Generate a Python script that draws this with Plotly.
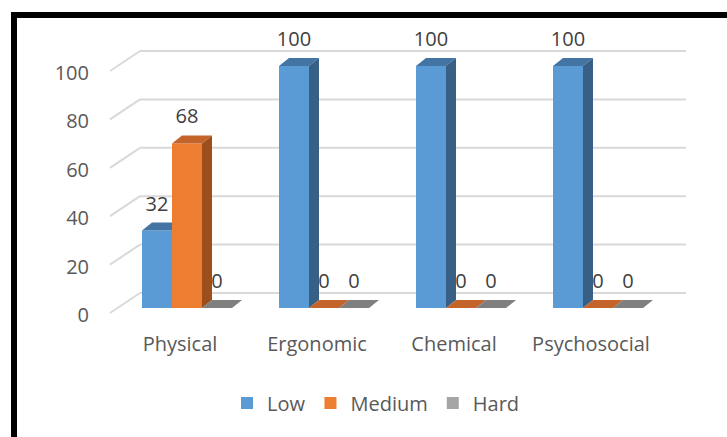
import plotly.graph_objects as go

# ---- data -------------------------------------------------------------
categories = ["Physical", "Ergonomic", "Chemical", "Psychosocial"]
low = [32, 100, 100, 100]
medium = [68, 0, 0, 0]
hard = [0, 0, 0, 0]
series_names = ["Low", "Medium", "Hard"]
y_ticks = [0, 20, 40, 60, 80, 100]

# ---- styling ------------------------------------------------------------
front_colors = ["#5b9bd5", "#ed7d31", "#a5a5a5"]
top_colors = ["#4374a3", "#c4642a", "#7f7f7f"]
side_colors = ["#385f86", "#9c4e1d", "#6b6b6b"]
grid_color = "#d9d9d9"
axis_text = "#595959"
label_text = "#404040"
FONT = "Open Sans"

# ---- pixel geometry of the drawing area ---------------------------------
W, H = 727, 437
L, R, T, B = 100, 700, 20, 330      # plot area (px)
X0_PX, KX = 187, 137.0              # px of first category centre, px per category
Y0_PX, KY = 308, 2.42               # px of value 0 on the front plane, px per unit

BAR_W = 30 / KX                     # bar width in category units
DX, DY = 10 / KX, 8 / KY            # bar depth (3-D offset)
WALL_FX, WALL_FDY = (110 - X0_PX) / KX, -5 / KY   # front edge of side wall
WALL_BX, WALL_BDY = (140 - X0_PX) / KX, 15 / KY   # back wall start
WALL_RX = (686 - X0_PX) / KX                      # back wall right end
LABEL_GAP = 25 / KY                 # data label centre above the bar front top
XLAB_DX = -7 / KX                   # category label shift
YLAB_DY = 7 / KY                    # value label shift (below front plane)

x_range = [(L - X0_PX) / KX, (R - X0_PX) / KX]
y_range = [(Y0_PX - B) / KY, (Y0_PX - T) / KY]

series = [low, medium, hard]

fig = go.Figure()

# front faces
for k, (name, vals) in enumerate(zip(series_names, series)):
    fig.add_trace(go.Bar(
        name=name, x=list(range(len(categories))), y=vals,
        marker=dict(color=front_colors[k], line=dict(width=0)),
        hoverinfo="skip",
    ))


def poly(xs, ys, color):
    fig.add_trace(go.Scatter(
        x=xs + [xs[0]], y=ys + [ys[0]], mode="lines", fill="toself",
        fillcolor=color, line=dict(width=0, color=color),
        hoverinfo="skip", showlegend=False,
    ))


# top and side faces, drawn left to right so nearer faces overlap correctly
for i in range(len(categories)):
    for k, vals in enumerate(series):
        v = vals[i]
        x0 = i + (k - 1.5) * BAR_W
        x1 = x0 + BAR_W
        nxt = series[k + 1][i] if k + 1 < len(series) else None
        hidden_right = nxt is not None and nxt >= v + DY
        if hidden_right:
            poly([x0, x1, x1, x0 + DX], [v, v, v + DY, v + DY], top_colors[k])
        else:
            poly([x0, x1, x1 + DX, x0 + DX], [v, v, v + DY, v + DY], top_colors[k])
            if v > 0:
                poly([x1, x1, x1 + DX, x1 + DX], [0, v, v + DY, DY], side_colors[k])

# data labels
lab_x, lab_y, lab_t = [], [], []
for i in range(len(categories)):
    for k, vals in enumerate(series):
        lab_x.append(i + (k - 1) * BAR_W)
        lab_y.append(vals[i] + LABEL_GAP)
        lab_t.append(str(vals[i]))
fig.add_trace(go.Scatter(
    x=lab_x, y=lab_y, text=lab_t, mode="text", textposition="middle center",
    textfont=dict(family=FONT, size=20, color=label_text),
    hoverinfo="skip", showlegend=False, cliponaxis=False,
))

# value axis for the tick labels on the side wall
fig.add_trace(go.Scatter(x=[], y=[], yaxis="y2", mode="markers",
                         hoverinfo="skip", showlegend=False))

# back wall gridlines and side wall diagonals
shapes = []
for t in y_ticks:
    shapes.append(dict(type="line", xref="x", yref="y", layer="below",
                       x0=WALL_FX, y0=t + WALL_FDY, x1=WALL_BX, y1=t + WALL_BDY,
                       line=dict(color=grid_color, width=2)))
    shapes.append(dict(type="line", xref="x", yref="y", layer="below",
                       x0=WALL_BX, y0=t + WALL_BDY, x1=WALL_RX, y1=t + WALL_BDY,
                       line=dict(color=grid_color, width=2)))

# black frame around the chart
shapes.append(dict(type="rect", xref="paper", yref="paper", layer="above",
                   x0=(14 - L) / (R - L), x1=(780 - L) / (R - L),
                   y0=(B - 480) / (B - T), y1=(B - 15) / (B - T),
                   line=dict(color="black", width=6), fillcolor="rgba(0,0,0,0)"))

fig.update_layout(
    width=W, height=H,
    margin=dict(l=L, r=W - R, t=T, b=H - B, pad=0),
    paper_bgcolor="white", plot_bgcolor="white",
    barmode="group", bargap=1 - 3 * BAR_W, bargroupgap=0,
    font=dict(family=FONT, size=20, color=axis_text),
    shapes=shapes,
    showlegend=True,
    legend=dict(orientation="h", x=(376 - L) / (R - L), xanchor="center",
                y=(B - 403) / (B - T), yanchor="middle",
                font=dict(family=FONT, size=20, color=axis_text),
                bgcolor="rgba(0,0,0,0)"),
    xaxis=dict(range=x_range, tickmode="array",
               tickvals=[i + XLAB_DX for i in range(len(categories))],
               ticktext=categories, showgrid=False, zeroline=False,
               showline=False, ticks="", tickfont=dict(size=20, color=axis_text)),
    yaxis=dict(range=y_range, showgrid=False, zeroline=False, showline=False,
               showticklabels=False, ticks=""),
    yaxis2=dict(overlaying="y", side="left", range=[y_range[0] + YLAB_DY, y_range[1] + YLAB_DY],
                tickmode="array", tickvals=y_ticks, showgrid=False, zeroline=False,
                showline=False, ticks="", ticklabelstandoff=10,
                tickfont=dict(size=20, color=axis_text)),
)

fig.write_html("out.html")
